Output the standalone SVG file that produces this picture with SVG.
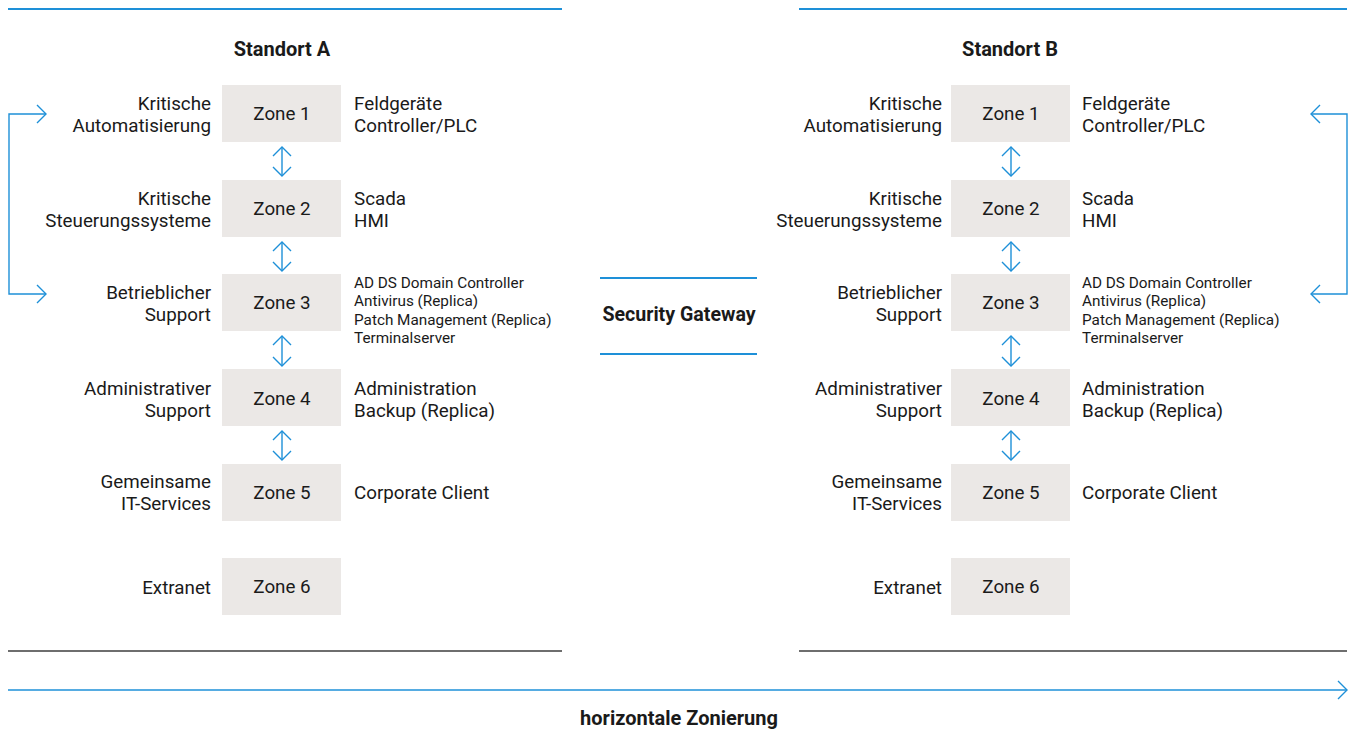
<svg xmlns="http://www.w3.org/2000/svg" width="1352" height="731" viewBox="0 0 1352 731">
<style>
text{font-family:Roboto,"Liberation Sans",sans-serif;fill:#1a1a1a}
.t{font-size:18.8px}
.s{font-size:15.3px}
.z{font-size:18.8px;text-anchor:middle}
.r{text-anchor:end}
.b{font-weight:bold;font-size:20px;text-anchor:middle}
.g{font-size:19.6px}
.box{fill:#ebe8e6}
.bl{stroke:#1e90d8;stroke-width:2;fill:none}
.gr{stroke:#6e6e6e;stroke-width:2;fill:none}
.ar{stroke:#1e90d8;stroke-width:1.4;fill:none}
</style>
<defs>
<marker id="ah" viewBox="0 0 12 20" refX="10" refY="10" markerWidth="12" markerHeight="20" markerUnits="userSpaceOnUse" orient="auto-start-reverse">
<path d="M1,1 L10,10 L1,19" fill="none" stroke="#1e90d8" stroke-width="1.4"/>
</marker>
</defs>
<g id="frame">
<line class="bl" x1="8" y1="9" x2="562" y2="9"/>
<line class="bl" x1="799" y1="9" x2="1347" y2="9"/>
<line class="gr" x1="8" y1="651" x2="562" y2="651"/>
<line class="gr" x1="799" y1="651" x2="1347" y2="651"/>
</g>
<g id="connectors">
<line class="ar" x1="282" y1="147" x2="282" y2="176" marker-start="url(#ah)" marker-end="url(#ah)"/>
<line class="ar" x1="282" y1="242" x2="282" y2="271" marker-start="url(#ah)" marker-end="url(#ah)"/>
<line class="ar" x1="282" y1="336" x2="282" y2="366" marker-start="url(#ah)" marker-end="url(#ah)"/>
<line class="ar" x1="282" y1="431" x2="282" y2="460" marker-start="url(#ah)" marker-end="url(#ah)"/>
<line class="ar" x1="1011" y1="147" x2="1011" y2="176" marker-start="url(#ah)" marker-end="url(#ah)"/>
<line class="ar" x1="1011" y1="242" x2="1011" y2="271" marker-start="url(#ah)" marker-end="url(#ah)"/>
<line class="ar" x1="1011" y1="336" x2="1011" y2="366" marker-start="url(#ah)" marker-end="url(#ah)"/>
<line class="ar" x1="1011" y1="431" x2="1011" y2="460" marker-start="url(#ah)" marker-end="url(#ah)"/>
<path class="ar" d="M46,114 L9,114 L9,294 L46,294" marker-start="url(#ah)" marker-end="url(#ah)"/>
<path class="ar" d="M1311,114 L1347,114 L1347,294 L1311,294" marker-start="url(#ah)" marker-end="url(#ah)"/>
<line class="ar" x1="8" y1="690" x2="1347" y2="690" marker-end="url(#ah)"/>
</g>
<g id="standortA">
<text class="b" x="282" y="56">Standort A</text>
</g>
<g id="standortB">
<text class="b" x="1010" y="56">Standort B</text>
</g>
<g id="gateway">
<line class="bl" x1="600" y1="278" x2="757" y2="278"/>
<line class="bl" x1="600" y1="354" x2="757" y2="354"/>
<text class="b g" x="679" y="321">Security Gateway</text>
</g>
<g id="zone1A"><rect class="box" x="222" y="85" width="119" height="57"/><text class="z" x="282" y="120">Zone 1</text>
<text class="t r"><tspan x="211" y="110">Kritische</tspan><tspan x="211" y="132">Automatisierung</tspan></text>
<text class="t"><tspan x="354" y="110">Feldgeräte</tspan><tspan x="354" y="132">Controller/PLC</tspan></text></g>
<g id="zone2A"><rect class="box" x="222" y="180" width="119" height="57"/><text class="z" x="282" y="215">Zone 2</text>
<text class="t r"><tspan x="211" y="205">Kritische</tspan><tspan x="211" y="227">Steuerungssysteme</tspan></text>
<text class="t"><tspan x="354" y="205">Scada</tspan><tspan x="354" y="227">HMI</tspan></text></g>
<g id="zone3A"><rect class="box" x="222" y="274" width="119" height="57"/><text class="z" x="282" y="309">Zone 3</text>
<text class="t r"><tspan x="211" y="299">Betrieblicher</tspan><tspan x="211" y="321">Support</tspan></text>
<text class="s"><tspan x="354" y="288">AD DS Domain Controller</tspan><tspan x="354" y="306">Antivirus (Replica)</tspan><tspan x="354" y="325">Patch Management (Replica)</tspan><tspan x="354" y="343">Terminalserver</tspan></text></g>
<g id="zone4A"><rect class="box" x="222" y="369" width="119" height="57"/><text class="z" x="282" y="405">Zone 4</text>
<text class="t r"><tspan x="211" y="395">Administrativer</tspan><tspan x="211" y="417">Support</tspan></text>
<text class="t"><tspan x="354" y="395">Administration</tspan><tspan x="354" y="417">Backup (Replica)</tspan></text></g>
<g id="zone5A"><rect class="box" x="222" y="464" width="119" height="57"/><text class="z" x="282" y="499">Zone 5</text>
<text class="t r"><tspan x="211" y="488">Gemeinsame</tspan><tspan x="211" y="510">IT-Services</tspan></text>
<text class="t" x="354" y="499">Corporate Client</text></g>
<g id="zone6A"><rect class="box" x="222" y="558" width="119" height="57"/><text class="z" x="282" y="593">Zone 6</text>
<text class="t r" x="211" y="594">Extranet</text></g>
<g id="zone1B"><rect class="box" x="951" y="85" width="119" height="57"/><text class="z" x="1011" y="120">Zone 1</text>
<text class="t r"><tspan x="942" y="110">Kritische</tspan><tspan x="942" y="132">Automatisierung</tspan></text>
<text class="t"><tspan x="1082" y="110">Feldgeräte</tspan><tspan x="1082" y="132">Controller/PLC</tspan></text></g>
<g id="zone2B"><rect class="box" x="951" y="180" width="119" height="57"/><text class="z" x="1011" y="215">Zone 2</text>
<text class="t r"><tspan x="942" y="205">Kritische</tspan><tspan x="942" y="227">Steuerungssysteme</tspan></text>
<text class="t"><tspan x="1082" y="205">Scada</tspan><tspan x="1082" y="227">HMI</tspan></text></g>
<g id="zone3B"><rect class="box" x="951" y="274" width="119" height="57"/><text class="z" x="1011" y="309">Zone 3</text>
<text class="t r"><tspan x="942" y="299">Betrieblicher</tspan><tspan x="942" y="321">Support</tspan></text>
<text class="s"><tspan x="1082" y="288">AD DS Domain Controller</tspan><tspan x="1082" y="306">Antivirus (Replica)</tspan><tspan x="1082" y="325">Patch Management (Replica)</tspan><tspan x="1082" y="343">Terminalserver</tspan></text></g>
<g id="zone4B"><rect class="box" x="951" y="369" width="119" height="57"/><text class="z" x="1011" y="405">Zone 4</text>
<text class="t r"><tspan x="942" y="395">Administrativer</tspan><tspan x="942" y="417">Support</tspan></text>
<text class="t"><tspan x="1082" y="395">Administration</tspan><tspan x="1082" y="417">Backup (Replica)</tspan></text></g>
<g id="zone5B"><rect class="box" x="951" y="464" width="119" height="57"/><text class="z" x="1011" y="499">Zone 5</text>
<text class="t r"><tspan x="942" y="488">Gemeinsame</tspan><tspan x="942" y="510">IT-Services</tspan></text>
<text class="t" x="1082" y="499">Corporate Client</text></g>
<g id="zone6B"><rect class="box" x="951" y="558" width="119" height="57"/><text class="z" x="1011" y="593">Zone 6</text>
<text class="t r" x="942" y="594">Extranet</text></g>
<g id="axis">
<text class="b" x="679" y="725">horizontale Zonierung</text>
</g>
</svg>
